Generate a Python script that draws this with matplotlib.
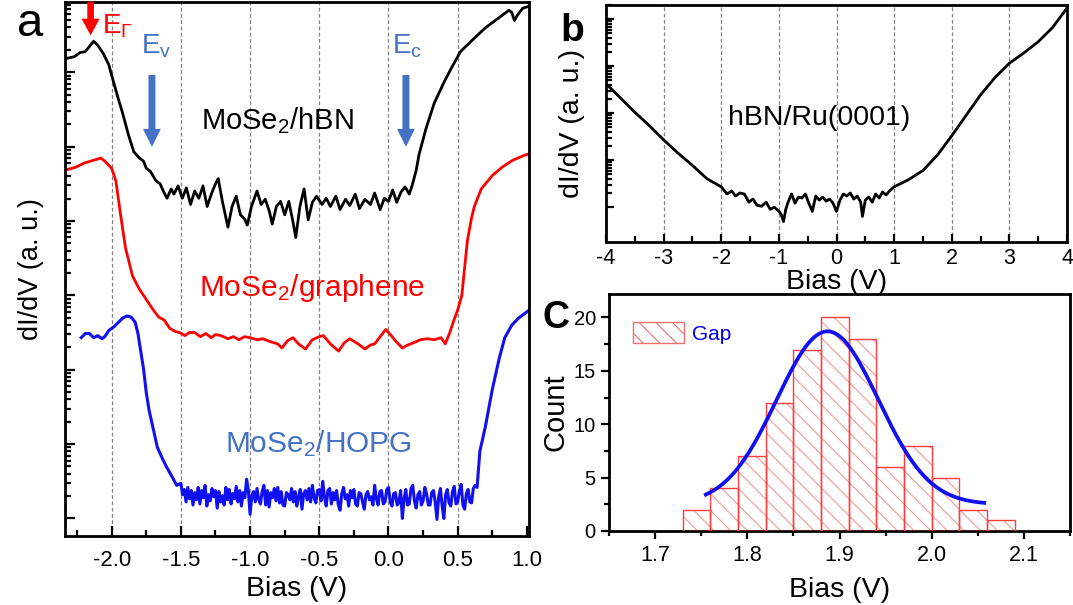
import numpy as np
import matplotlib
matplotlib.use('Agg')
import matplotlib.pyplot as plt
from matplotlib.patches import Patch
from matplotlib.ticker import FixedLocator, MultipleLocator, NullFormatter, FormatStrFormatter

plt.rcParams['font.family'] = ['Liberation Sans', 'DejaVu Sans']
plt.rcParams['axes.unicode_minus'] = False
plt.rcParams['hatch.linewidth'] = 0.8

# --- panel a: STS spectra of MoSe2 on three substrates ---
bias_hbn = [-2.34, -2.27, -2.23, -2.19, -2.16, -2.13, -2.10, -2.06, -2.02, -2.00,
            -1.96, -1.92, -1.88, -1.84, -1.80, -1.77, -1.75, -1.72, -1.68, -1.65,
            -1.62, -1.60, -1.57, -1.55, -1.52, -1.49, -1.46, -1.43, -1.40, -1.37,
            -1.34, -1.31, -1.28, -1.25, -1.23, -1.20, -1.16, -1.13, -1.10, -1.07,
            -1.04, -1.02, -0.99, -0.95, -0.92, -0.89, -0.86, -0.84, -0.81, -0.78,
            -0.75, -0.72, -0.69, -0.67, -0.64, -0.61, -0.58, -0.55, -0.52, -0.48,
            -0.45, -0.42, -0.38, -0.35, -0.31, -0.28, -0.24, -0.21, -0.17, -0.13,
            -0.10, -0.06, -0.03, 0.00, 0.03, 0.06, 0.09, 0.12, 0.15, 0.17,
            0.20, 0.22, 0.27, 0.33, 0.40, 0.45, 0.52, 0.62, 0.70, 0.77,
            0.83, 0.87, 0.89, 0.91, 0.93, 0.97, 1.02]
didv_hbn = [472, 474, 478, 479, 484, 489, 485, 477, 466, 456,
            437, 419, 399, 382, 376, 373, 366, 363, 354, 351,
            342, 337, 346, 341, 349, 337, 347, 331, 344, 337,
            349, 329, 341, 351, 356, 334, 309, 329, 339, 321,
            317, 311, 329, 344, 331, 336, 324, 312, 329, 334,
            321, 334, 314, 299, 329, 346, 316, 333, 339, 331,
            337, 329, 339, 326, 336, 330, 341, 327, 336, 331,
            342, 326, 337, 334, 345, 333, 343, 348, 341, 349,
            364, 379, 404, 429, 449, 462, 479, 492, 502, 509,
            515, 519, 517, 509, 514, 521, 523]

bias_gr = [-2.34, -2.26, -2.20, -2.15, -2.10, -2.08, -2.05, -2.00, -1.97, -1.93,
           -1.90, -1.85, -1.80, -1.75, -1.70, -1.66, -1.62, -1.58, -1.54, -1.51,
           -1.47, -1.44, -1.40, -1.36, -1.32, -1.28, -1.25, -1.21, -1.16, -1.12,
           -1.08, -1.04, -1.00, -0.95, -0.91, -0.85, -0.80, -0.77, -0.73, -0.69,
           -0.65, -0.60, -0.55, -0.50, -0.47, -0.42, -0.36, -0.32, -0.28, -0.22,
           -0.17, -0.13, -0.10, -0.06, -0.02, 0.02, 0.05, 0.10, 0.14, 0.18,
           0.23, 0.28, 0.33, 0.38, 0.41, 0.44, 0.47, 0.50, 0.53, 0.55,
           0.57, 0.60, 0.62, 0.67, 0.75, 0.82, 0.90, 0.99, 1.02]
didv_gr = [364, 367, 371, 373, 375, 376, 373, 366, 354, 316,
           289, 262, 249, 239, 229, 222, 219, 211, 208, 207,
           204, 207, 207, 203, 206, 202, 205, 204, 201, 203,
           200, 203, 202, 200, 201, 198, 196, 192, 199, 202,
           196, 191, 200, 203, 204, 196, 189, 197, 201, 196,
           191, 195, 196, 203, 210, 204, 199, 192, 195, 197,
           200, 201, 200, 202, 196, 206, 218, 229, 243, 270,
           296, 318, 329, 346, 359, 367, 374, 379, 380]

bias_hopg = [
    -2.22, -2.19, -2.16, -2.13, -2.10, -2.07, -2.05, -2.02, -1.98, -1.95,
    -1.92, -1.89, -1.86, -1.83, -1.81, -1.79, -1.77, -1.75, -1.73, -1.70,
    -1.67, -1.63, -1.60, -1.57, -1.53,
    -1.5000, -1.4875, -1.4750, -1.4625, -1.4500, -1.4375, -1.4250, -1.4125, -1.4000, -1.3875,
    -1.3750, -1.3625, -1.3500, -1.3375, -1.3250, -1.3125, -1.3000, -1.2875, -1.2750, -1.2625,
    -1.2500, -1.2375, -1.2250, -1.2125, -1.2000, -1.1875, -1.1750, -1.1625, -1.1500, -1.1375,
    -1.1250, -1.1125, -1.1000, -1.0875, -1.0750, -1.0625, -1.0500, -1.0375, -1.0250, -1.0125,
    -1.0000, -0.9875, -0.9750, -0.9625, -0.9500, -0.9375, -0.9250, -0.9125, -0.9000, -0.8875,
    -0.8750, -0.8625, -0.8500, -0.8375, -0.8250, -0.8125, -0.8000, -0.7875, -0.7750, -0.7625,
    -0.7500, -0.7375, -0.7250, -0.7125, -0.7000, -0.6875, -0.6750, -0.6625, -0.6500, -0.6375,
    -0.6250, -0.6125, -0.6000, -0.5875, -0.5750, -0.5625, -0.5500, -0.5375, -0.5250, -0.5125,
    -0.5000, -0.4875, -0.4750, -0.4625, -0.4500, -0.4375, -0.4250, -0.4125, -0.4000, -0.3875,
    -0.3750, -0.3625, -0.3500, -0.3375, -0.3250, -0.3125, -0.3000, -0.2875, -0.2750, -0.2625,
    -0.2500, -0.2375, -0.2250, -0.2125, -0.2000, -0.1875, -0.1750, -0.1625, -0.1500, -0.1375,
    -0.1250, -0.1125, -0.1000, -0.0875, -0.0750, -0.0625, -0.0500, -0.0375, -0.0250, -0.0125,
    0.0000, 0.0125, 0.0250, 0.0375, 0.0500, 0.0625, 0.0750, 0.0875, 0.1000, 0.1125,
    0.1250, 0.1375, 0.1500, 0.1625, 0.1750, 0.1875, 0.2000, 0.2125, 0.2250, 0.2375,
    0.2500, 0.2625, 0.2750, 0.2875, 0.3000, 0.3125, 0.3250, 0.3375, 0.3500, 0.3625,
    0.3750, 0.3875, 0.4000, 0.4125, 0.4250, 0.4375, 0.4500, 0.4625, 0.4750, 0.4875,
    0.5000, 0.5125, 0.5250, 0.5375, 0.5500, 0.5625, 0.5750, 0.5875, 0.6000, 0.6125,
    0.6250,
    0.64, 0.66, 0.70, 0.75, 0.80, 0.84, 0.89, 0.94, 0.99, 1.02]
didv_hopg = [
    202, 206, 206, 202, 204, 201, 203, 209, 213, 217,
    221, 223, 222, 217, 206, 189, 172, 149, 132, 114,
    96, 84, 76, 69, 59,
    61, 50, 55, 43, 57, 46, 54, 40, 52, 45,
    57, 41, 54, 47, 59, 39, 50, 44, 56, 48,
    54, 37, 53, 43, 49, 40, 57, 45, 55, 41,
    51, 46, 58, 43, 54, 39, 52, 47, 65, 54,
    31, 49, 53, 43, 56, 45, 41, 53, 59, 40,
    54, 38, 52, 47, 56, 44, 57, 42, 53, 40,
    39, 52, 50, 45, 56, 43, 53, 39, 48, 55,
    36, 51, 54, 45, 56, 43, 59, 47, 42, 54,
    55, 44, 63, 48, 39, 54, 56, 41, 52, 45,
    54, 40, 35, 51, 57, 46, 50, 39, 54, 47,
    55, 41, 39, 52, 51, 43, 36, 50, 53, 45,
    48, 40, 59, 46, 40, 53, 54, 41, 43, 55,
    57, 43, 39, 51, 52, 40, 42, 54, 27, 46,
    55, 40, 41, 56, 59, 44, 37, 50, 53, 40,
    44, 57, 51, 40, 40, 52, 54, 43, 26, 48,
    56, 39, 27, 50, 55, 42, 39, 53, 58, 41,
    43, 54, 60, 40, 36, 51, 55, 43, 42, 56,
    59,
    57, 92, 116, 152, 182, 202, 214, 221, 226, 229]

# --- panel b: bare hBN/Ru(0001) ---
bias_ru = [-4.00, -3.75, -3.50, -3.25, -3.00, -2.75, -2.50, -2.25, -2.00, -1.90,
           -1.82, -1.75, -1.68, -1.60, -1.52, -1.45, -1.38, -1.30, -1.22, -1.15,
           -1.08, -1.00, -0.96, -0.92, -0.88, -0.84, -0.78, -0.72, -0.66, -0.60,
           -0.54, -0.48, -0.42, -0.36, -0.30, -0.24, -0.18, -0.12, -0.06, 0.00,
           0.06, 0.12, 0.18, 0.24, 0.30, 0.36, 0.42, 0.45, 0.50, 0.56,
           0.62, 0.68, 0.74, 0.80, 0.86, 0.92, 1.00, 1.25, 1.50, 1.75,
           2.00, 2.25, 2.50, 2.75, 3.00, 3.25, 3.50, 3.75, 4.00]
didv_ru = [155, 141, 127, 114, 100, 87, 75, 62, 54, 47,
           50, 45, 48, 47, 39, 42, 36, 35, 39, 32,
           34, 30, 27, 20, 32, 39, 47, 38, 44, 43,
           47, 38, 30, 45, 41, 44, 40, 42, 38, 30,
           41, 47, 45, 48, 42, 45, 39, 25, 41, 44,
           39, 47, 43, 49, 46, 50, 54, 61, 70, 85,
           104, 124, 144, 161, 175, 185, 196, 210, 229]

# --- panel c: gap histogram with Gaussian fit ---
bin_left = [1.73, 1.76, 1.79, 1.82, 1.85, 1.88, 1.91, 1.94, 1.97, 2.00, 2.03, 2.06]
gap_count = [2, 4, 7, 12, 17, 20, 18, 6, 8, 5, 2, 1]
bin_width = 0.03
fit_center, fit_sigma, fit_amp, fit_offset = 1.887, 0.055, 16.2, 2.5
fit_range = (1.755, 2.057)

W, H = 1073, 605
RED = '#ff0000'
BLUE = '#1010f0'
STEEL = '#4472c4'


def box(l, t, r, b):
    return [l / W, 1 - b / H, (r - l) / W, (b - t) / H]


def fpos(x, y):
    return x / W, 1 - y / H


def stacked_log_ticks(ax, start, step, top):
    # unlabeled log-style ticks on the arbitrary-unit axis
    major, minor = [], []
    base = start
    while base < top:
        major.append(base)
        minor += [base + step * np.log10(k) for k in range(2, 10)]
        base += step
    ax.yaxis.set_major_locator(FixedLocator(major))
    ax.yaxis.set_minor_locator(FixedLocator([m for m in minor if m < top]))
    ax.yaxis.set_major_formatter(NullFormatter())
    ax.yaxis.set_minor_formatter(NullFormatter())


fig = plt.figure(figsize=(W / 100, H / 100), dpi=100)
ax_a = fig.add_axes(box(65, 2, 529, 536))
ax_b = fig.add_axes(box(606, 5, 1067, 242))
ax_c = fig.add_axes(box(609, 294, 1070, 531))

for ax in (ax_a, ax_b, ax_c):
    for sp in ax.spines.values():
        sp.set_linewidth(2.0)

# panel a
for v in [-2.0, -1.5, -1.0, -0.5, 0.0, 0.5]:
    ax_a.axvline(v, color='0.5', lw=0.9, ls=(0, (3, 2)), zorder=0)
ax_a.plot(bias_hbn, didv_hbn, color='black', lw=2.0)
ax_a.plot(bias_gr, didv_gr, color=RED, lw=2.0)
ax_a.plot(bias_hopg, didv_hopg, color=BLUE, lw=2.2)
ax_a.set_xlim(-2.337, 1.015)
ax_a.set_ylim(10, 527)
ax_a.xaxis.set_major_locator(MultipleLocator(0.5))
ax_a.xaxis.set_minor_locator(MultipleLocator(0.25))
ax_a.xaxis.set_major_formatter(FormatStrFormatter('%.1f'))
stacked_log_ticks(ax_a, 27, 72, 527)
ax_a.tick_params(which='both', direction='in', top=False, right=False, width=1.6)
ax_a.tick_params(which='major', length=7, labelsize=16, pad=10)
ax_a.tick_params(which='minor', length=4.5)
ax_a.set_xlabel('Bias (V)', fontsize=20.5, labelpad=4)
ax_a.set_ylabel('dI/dV (a. u.)', fontsize=19.5, labelpad=5)

arrow_red = 'simple,head_length=0.6,head_width=0.65,tail_width=0.24'
arrow_blue = 'simple,head_length=0.65,head_width=0.64,tail_width=0.25'
ax_a.annotate('', xy=(-2.152, 492), xytext=(-2.152, 530), annotation_clip=False,
              arrowprops=dict(arrowstyle=arrow_red, mutation_scale=20, color=RED, lw=0))
ax_a.annotate('', xy=(-1.709, 384), xytext=(-1.709, 459),
              arrowprops=dict(arrowstyle=arrow_blue, mutation_scale=20, color=STEEL, lw=0))
ax_a.annotate('', xy=(0.126, 384), xytext=(0.126, 459),
              arrowprops=dict(arrowstyle=arrow_blue, mutation_scale=20, color=STEEL, lw=0))

fig.text(*fpos(102, 33), r'$\mathregular{E_{\Gamma}}$', color=RED, fontsize=20, va='baseline')
fig.text(*fpos(141, 54), r'$\mathregular{E_{v}}$', color=STEEL, fontsize=20, va='baseline')
fig.text(*fpos(392, 54), r'$\mathregular{E_{c}}$', color=STEEL, fontsize=20, va='baseline')
fig.text(*fpos(277, 129), r'MoSe$\mathregular{_2}$/hBN', color='black', fontsize=21,
         ha='center', va='baseline')
fig.text(*fpos(312, 296), r'MoSe$\mathregular{_2}$/graphene', color=RED, fontsize=21.5,
         ha='center', va='baseline')
fig.text(*fpos(318, 452), r'MoSe$\mathregular{_2}$/HOPG', color=STEEL, fontsize=21.5,
         ha='center', va='baseline')

# panel b
for v in [-3, -2, -1, 0, 1, 2, 3]:
    ax_b.axvline(v, color='0.5', lw=0.9, ls=(0, (3, 2)), zorder=0)
ax_b.plot(bias_ru, didv_ru, color='black', lw=2.0)
ax_b.set_xlim(-4, 4)
ax_b.set_ylim(0, 232)
ax_b.xaxis.set_major_locator(MultipleLocator(1))
ax_b.xaxis.set_minor_locator(MultipleLocator(0.5))
stacked_log_ticks(ax_b, 34, 46, 232)
ax_b.tick_params(which='both', direction='in', top=False, right=False, width=1.6)
ax_b.tick_params(which='major', length=6, labelsize=15.5, pad=4)
ax_b.tick_params(which='minor', length=4)
ax_b.set_xlabel('Bias (V)', fontsize=20.5, labelpad=0)
ax_b.set_ylabel('dI/dV (a. u.)', fontsize=20.5, labelpad=11)
fig.text(*fpos(819, 125), 'hBN/Ru(0001)', fontsize=20.5, ha='center', va='baseline')

# panel c
ax_c.bar(bin_left, gap_count, width=bin_width, align='edge', facecolor='white',
         edgecolor='#f59a9a', hatch='\\\\', lw=0, zorder=2)
ax_c.bar(bin_left, gap_count, width=bin_width, align='edge', facecolor='none',
         edgecolor='#ff3c3c', lw=1.0, zorder=3)
fit_x = np.linspace(fit_range[0], fit_range[1], 200)
fit_y = fit_offset + fit_amp * np.exp(-(fit_x - fit_center) ** 2 / (2 * fit_sigma ** 2))
ax_c.plot(fit_x, fit_y, color=BLUE, lw=2.7, zorder=4)
ax_c.set_xlim(1.65, 2.15)
ax_c.set_ylim(0, 22.2)
ax_c.xaxis.set_major_locator(MultipleLocator(0.1))
ax_c.xaxis.set_minor_locator(MultipleLocator(0.05))
ax_c.xaxis.set_major_formatter(FormatStrFormatter('%.1f'))
ax_c.yaxis.set_major_locator(MultipleLocator(5))
ax_c.yaxis.set_minor_locator(MultipleLocator(2.5))
ax_c.tick_params(which='both', direction='out', top=False, right=False, width=1.6)
ax_c.tick_params(which='major', length=6)
ax_c.tick_params(which='minor', length=3.5)
ax_c.tick_params(axis='x', labelsize=15.5, pad=4)
ax_c.tick_params(axis='y', labelsize=14.5, pad=3.5)
ax_c.set_xlabel('Bias (V)', fontsize=20.5, labelpad=8)
ax_c.set_ylabel('Count', fontsize=21, labelpad=3)
gap_patch = Patch(facecolor='white', edgecolor='#f07070', hatch='\\\\', lw=1.0)
ax_c.legend(handles=[gap_patch], labels=['Gap'], loc='upper left',
            bbox_to_anchor=(0.052, 0.88), frameon=False, borderpad=0, borderaxespad=0,
            handlelength=2.45, handleheight=1.15, handletextpad=0.38, fontsize=15,
            labelcolor='#0000ee')

# panel letters
fig.text(*fpos(30, 36), 'a', fontsize=34, ha='center', va='baseline')
fig.text(*fpos(572, 41), 'b', fontsize=28, fontweight='bold', ha='center', va='baseline')
fig.text(*fpos(556, 328), 'C', fontsize=27, fontweight='bold', ha='center', va='baseline')

fig.savefig('out.png', dpi=100)
